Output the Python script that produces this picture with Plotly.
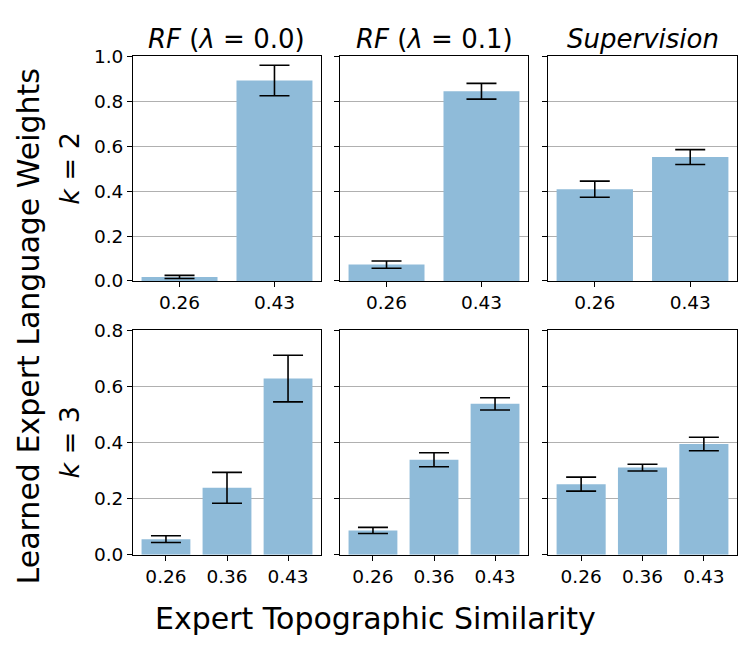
import plotly.graph_objects as go

# expert topographic similarity categories per row
cats_k2 = ["0.26", "0.43"]
cats_k3 = ["0.26", "0.36", "0.43"]

col_titles = ["<i>RF</i> (<i>λ</i> = 0.0)", "<i>RF</i> (<i>λ</i> = 0.1)", "<i>Supervision</i>"]
row_titles = ["<i>k</i> = 2", "<i>k</i> = 3"]

# k = 2 : mean weight and error
rf0_k2 = [0.018, 0.893]
rf0_k2_err = [0.007, 0.068]
rf1_k2 = [0.073, 0.845]
rf1_k2_err = [0.016, 0.035]
sup_k2 = [0.409, 0.552]
sup_k2_err = [0.036, 0.033]

# k = 3
rf0_k3 = [0.056, 0.239, 0.628]
rf0_k3_err = [0.012, 0.055, 0.083]
rf1_k3 = [0.087, 0.339, 0.538]
rf1_k3_err = [0.011, 0.025, 0.022]
sup_k3 = [0.252, 0.311, 0.395]
sup_k3_err = [0.025, 0.012, 0.024]

y_ticks_k2 = [0.0, 0.2, 0.4, 0.6, 0.8, 1.0]
y_ticks_k3 = [0.0, 0.2, 0.4, 0.6, 0.8]

BAR = "#8fbbd9"
FONT = "DejaVu Sans"

panels = [
    (cats_k2, rf0_k2, rf0_k2_err), (cats_k2, rf1_k2, rf1_k2_err), (cats_k2, sup_k2, sup_k2_err),
    (cats_k3, rf0_k3, rf0_k3_err), (cats_k3, rf1_k3, rf1_k3_err), (cats_k3, sup_k3, sup_k3_err),
]

W, H = 750, 650
x_dom = [(133, 321), (340, 528), (548, 737)]
y_dom = [(47, 279), (330, 562)]

fig = go.Figure()
for i, (cats, vals, errs) in enumerate(panels):
    r, c = divmod(i, 3)
    n = i + 1
    xa = "x" if n == 1 else f"x{n}"
    ya = "y" if n == 1 else f"y{n}"
    fig.add_trace(go.Bar(
        x=cats, y=vals, xaxis=xa, yaxis=ya,
        marker=dict(color=BAR, line=dict(width=0)),
        error_y=dict(type="data", array=errs, color="black", thickness=1.6, width=15),
        showlegend=False,
    ))
    nc = len(cats)
    pad = 0.4 + 0.05 * (nc - 0.2)
    fig.layout[f"xaxis{'' if n == 1 else n}"] = dict(
        domain=[x_dom[c][0] / W, x_dom[c][1] / W],
        anchor=ya, type="category", range=[-pad, nc - 1 + pad],
        showline=True, linecolor="black", linewidth=1, mirror=True,
        ticks="outside", ticklen=5, tickcolor="black",
        showgrid=False, tickfont=dict(size=18.5, color="black"),
    )
    ticks = y_ticks_k2 if r == 0 else y_ticks_k3
    fig.layout[f"yaxis{'' if n == 1 else n}"] = dict(
        domain=[1 - y_dom[r][1] / H, 1 - y_dom[r][0] / H],
        anchor=xa, range=[0, ticks[-1]],
        tickvals=ticks, ticktext=[f"{t:.1f}" for t in ticks],
        showticklabels=(c == 0),
        showline=True, linecolor="black", linewidth=1, mirror=True,
        ticks="outside", ticklen=5, tickcolor="black",
        showgrid=True, gridcolor="#b0b0b0", gridwidth=1,
        zeroline=False, tickfont=dict(size=18.5, color="black"),
    )

annotations = []
for c, t in enumerate(col_titles):
    annotations.append(dict(
        text=t, x=(x_dom[c][0] + x_dom[c][1]) / 2 / W, y=1 - 29 / H,
        xref="paper", yref="paper", xanchor="center", yanchor="middle",
        showarrow=False, font=dict(size=26, color="black"),
    ))
for r, t in enumerate(row_titles):
    annotations.append(dict(
        text=t, x=70 / W, y=1 - (y_dom[r][0] + y_dom[r][1]) / 2 / H,
        xref="paper", yref="paper", xanchor="center", yanchor="middle",
        textangle=-90, showarrow=False, font=dict(size=27, color="black"),
    ))
annotations.append(dict(
    text="Learned Expert Language Weights", x=28 / W, y=1 - 326 / H,
    xref="paper", yref="paper", xanchor="center", yanchor="middle",
    textangle=-90, showarrow=False, font=dict(size=30, color="black"),
))
annotations.append(dict(
    text="Expert Topographic Similarity", x=375 / W, y=1 - 628 / H,
    xref="paper", yref="paper", xanchor="center", yanchor="middle",
    showarrow=False, font=dict(size=30, color="black"),
))

fig.update_layout(
    width=W, height=H,
    margin=dict(l=0, r=0, t=0, b=0),
    paper_bgcolor="white", plot_bgcolor="white",
    font=dict(family=FONT, color="black"),
    bargap=0.2,
    annotations=annotations,
)

# drop the browser's default body margin so the figure sits at the page origin
fig.write_html("out.html", config={"displayModeBar": False},
               post_script="document.body.style.margin='0';")
